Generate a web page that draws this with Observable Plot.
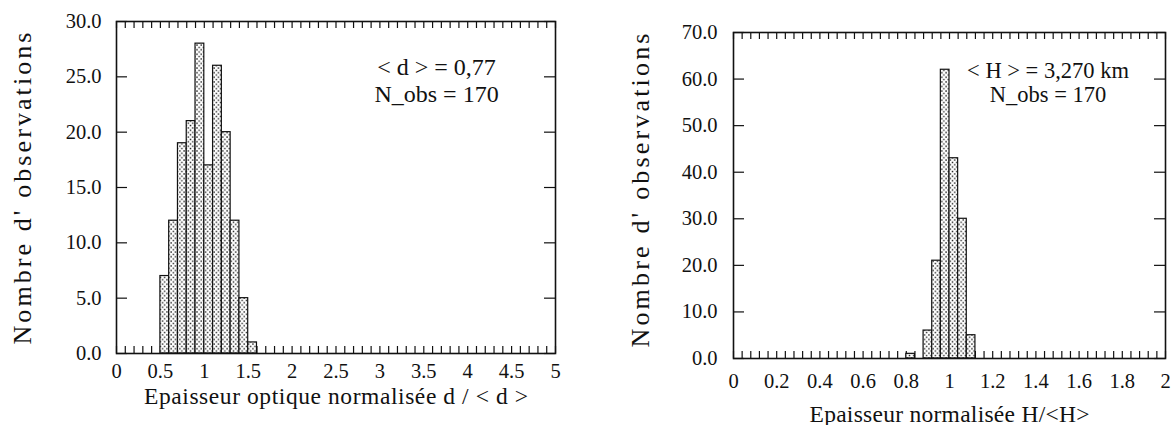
<!DOCTYPE html>
<html><head><meta charset="utf-8">
<script src="https://cdn.jsdelivr.net/npm/d3@7"></script>
<script src="https://cdn.jsdelivr.net/npm/@observablehq/plot@0.6"></script>
<style>
body{margin:0;background:#fff;width:1176px;height:425px;overflow:hidden;position:relative;font-family:"Liberation Serif","Times New Roman",serif;}
#left{position:absolute;left:0;top:0}
#right{position:absolute;left:590px;top:0}
</style></head><body>
<svg width="0" height="0" style="position:absolute"><defs>
<pattern id="dots" patternUnits="userSpaceOnUse" width="4.3" height="4.6">
<rect width="4.3" height="4.6" fill="#fff"/>
<rect x="0.6" y="0.7" width="1.4" height="1.4" fill="#1a1a1a"/>
<rect x="2.8" y="3.0" width="1.4" height="1.4" fill="#1a1a1a"/>
</pattern></defs></svg>
<div id="left"></div><div id="right"></div>
<script>
// ---- data: left histogram (optical thickness) ----
const leftBinStart = [0.5, 0.6, 0.7, 0.8, 0.9, 1.0, 1.1, 1.2, 1.3, 1.4, 1.5];
const leftCounts   = [7, 12, 19, 21, 28, 17, 26, 20, 12, 5, 1];
const leftBinWidth = 0.1;
const leftXTicks = [0, 0.5, 1, 1.5, 2, 2.5, 3, 3.5, 4, 4.5, 5];
const leftYTicks = [0, 5, 10, 15, 20, 25, 30];
const leftMinorStep = 0.1;
const leftNotes = ["< d > = 0,77", "N_obs = 170"];
const leftNoteX = [3.645, 3.645];
const leftNoteY = [25.2, 22.7];

// ---- data: right histogram (geometric thickness) ----
const rightBinStart = [0.80, 0.88, 0.92, 0.96, 1.00, 1.04, 1.08];
const rightCounts   = [1, 6, 21, 62, 43, 30, 5];
const rightBinWidth = 0.04;
const rightXTicks = [0, 0.2, 0.4, 0.6, 0.8, 1, 1.2, 1.4, 1.6, 1.8, 2];
const rightYTicks = [0, 10, 20, 30, 40, 50, 60, 70];
const rightMinorStep = 0.04;
const rightNotes = ["< H > = 3,270 km", "N_obs = 170"];
const rightNoteX = [1.456, 1.456];
const rightNoteY = [60.2, 55.0];

const yLabel = "Nombre d' observations";
const leftXLabel = "Epaisseur optique normalisée d / < d >";
const rightXLabel = "Epaisseur normalisée H/<H>";

function hist(o) {
  const table = o.bins.map((b, i) => ({x1: b, x2: +(b + o.binWidth).toFixed(4), count: o.counts[i]}));
  const nMinor = Math.round((o.xDomain[1] - o.xDomain[0]) / o.minorStep);
  const minor = d3.range(nMinor + 1).map(i => +(o.xDomain[0] + i * o.minorStep).toFixed(4));
  const innerW = o.width - o.ml - o.mr;
  const innerH = 425 - o.mt - o.mb;
  const ink = "#111";
  const notes = o.notes.map((t, i) => ({t, x: o.noteX[i], y: o.noteY[i]}));
  const svg = Plot.plot({
    width: o.width, height: 425,
    marginLeft: o.ml, marginRight: o.mr, marginTop: o.mt, marginBottom: o.mb,
    style: {fontFamily: '"Liberation Serif","Times New Roman",serif', fontSize: o.tickFont + "px", color: ink, background: "transparent", overflow: "visible"},
    x: {domain: o.xDomain},
    y: {domain: o.yDomain},
    marks: [
      Plot.ruleX(minor, {stroke: ink, strokeWidth: 1.2, insetTop: innerH - 7}),
      Plot.ruleX(minor, {stroke: ink, strokeWidth: 1.2, insetBottom: innerH - 7}),
      Plot.ruleY(o.yTicks, {stroke: ink, strokeWidth: 1.2, insetRight: innerW - 11}),
      Plot.ruleY(o.yTicks, {stroke: ink, strokeWidth: 1.2, insetLeft: innerW - 11}),
      Plot.rectY(table, {x1: "x1", x2: "x2", y: "count", fill: "url(#dots)", stroke: ink, strokeWidth: 1.2}),
      Plot.frame({stroke: ink, strokeWidth: 1.6}),
      Plot.axisX(o.xTicks, {tickSize: 0, tickPadding: o.xPad, tickFormat: d => String(d), label: null, fontSize: o.tickFont}),
      Plot.axisY(o.yTicks, {tickSize: 0, tickPadding: o.yPad, tickFormat: d3.format(".1f"), label: null, fontSize: o.tickFont}),
      Plot.text([o.xLabel], {frameAnchor: "bottom", dy: o.xLabelOffset, lineAnchor: "bottom", textAnchor: "middle", fontSize: o.xLabelFont, fill: ink}),
      Plot.text([yLabel], {frameAnchor: "left", dx: -o.yLabelOffset, dy: o.yLabelShift, rotate: -90, lineAnchor: "top", textAnchor: "middle", fontSize: o.yLabelFont, fill: ink}),
      Plot.text(notes, {x: "x", y: "y", text: "t", lineAnchor: "bottom", textAnchor: "middle", fontSize: o.noteFont, fill: ink})
    ]
  });
  svg.querySelectorAll("text").forEach(t => {
    const s = t.textContent;
    if (s === yLabel) { t.setAttribute("textLength", o.yLabelLength); t.setAttribute("lengthAdjust", "spacing"); }
    else if (s === o.xLabel) { t.setAttribute("textLength", o.xLabelLength); t.setAttribute("lengthAdjust", "spacing"); }
  });
  return svg;
}

const left = hist({
  width: 590, ml: 116, mr: 35, mt: 21, mb: 72,
  bins: leftBinStart, counts: leftCounts, binWidth: leftBinWidth,
  xDomain: [0, 5], yDomain: [0, 30], xTicks: leftXTicks, yTicks: leftYTicks, minorStep: leftMinorStep,
  xLabel: leftXLabel, xLabelOffset: 50, xLabelLength: 384, yLabelOffset: 104, yLabelShift: 1, yLabelLength: 312,
  notes: leftNotes, noteX: leftNoteX, noteY: leftNoteY,
  tickFont: 20.5, xLabelFont: 23.5, yLabelFont: 26, noteFont: 24, xPad: 10, yPad: 15
});
const right = hist({
  width: 586, ml: 143, mr: 11, mt: 32, mb: 67,
  bins: rightBinStart, counts: rightCounts, binWidth: rightBinWidth,
  xDomain: [0, 2], yDomain: [0, 70], xTicks: rightXTicks, yTicks: rightYTicks, minorStep: rightMinorStep,
  xLabel: rightXLabel, xLabelOffset: 63, xLabelLength: 280, yLabelOffset: 103, yLabelShift: -5, yLabelLength: 314,
  notes: rightNotes, noteX: rightNoteX, noteY: rightNoteY,
  tickFont: 20.5, xLabelFont: 23.5, yLabelFont: 26, noteFont: 22.5, xPad: 15, yPad: 16
});
document.getElementById("left").appendChild(left);
document.getElementById("right").appendChild(right);
</script>
</body></html>
